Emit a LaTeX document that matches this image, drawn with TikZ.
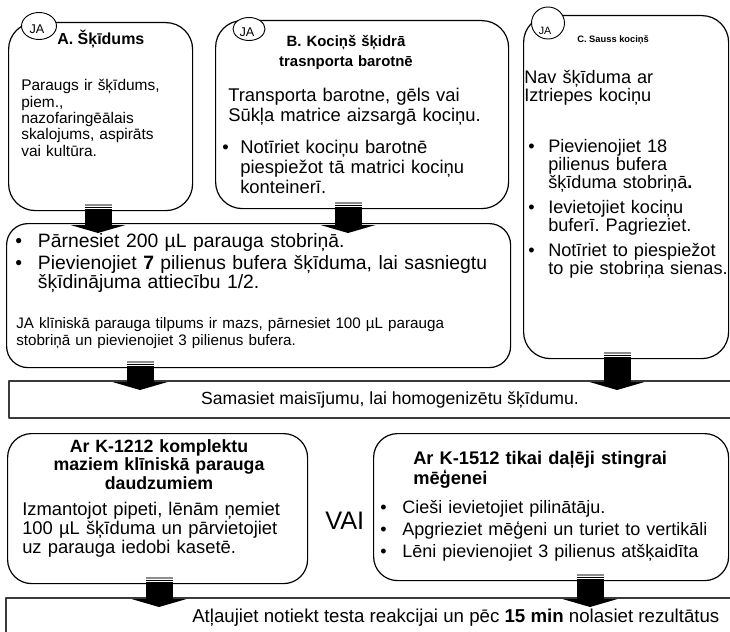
\documentclass[tikz,border=0pt]{standalone}
\usepackage{fontspec}
\setmainfont{Liberation Sans}
\usetikzlibrary{calc,shapes.geometric}
\definecolor{cframe}{HTML}{3A3A3A}
\definecolor{cstripe}{HTML}{8C8C8C}
\def\pxl{0.75pt}
\frenchspacing
\newlength\bulind
\newcommand\bul[1]{\hangindent=\bulind\hangafter=1\noindent
  \makebox[\bulind][l]{\textbullet}#1\par}
% fat block arrow: from node, to node, x position (px)
\newcommand\flowarrow[3]{%
  \coordinate (fa-a) at (#3,0 |- #1.south);
  \coordinate (fa-b) at (#3,0 |- #2.north);
  \fill[cstripe] ($(fa-a)+(-13.5,-7.5)$) rectangle ($(fa-a)+(13.5,-5.5)$);
  \fill ($(fa-a)+(-13.5,-4.5)$) rectangle ($(fa-a)+(13.5,-3)$);
  \fill ($(fa-a)+(-13.5,-2)$) rectangle ($(fa-b)+(13.5,2)$);
  \fill ($(fa-b)+(-27.5,2)$) -- ($(fa-b)+(27.5,2)$) -- ($(fa-b)+(0,10)$) -- cycle;
}

\begin{document}
\begin{tikzpicture}[x=0.75pt, y=-0.75pt, line join=round,
    rbox/.style={draw, line width=0.9pt, rounded corners=20pt,
                 inner sep=0pt, anchor=north west},
    sbox/.style={draw=cframe, line width=1.3pt, inner sep=0pt,
                 anchor=north west},
    jamark/.style={draw, fill=white, ellipse, inner sep=0pt, line width=0.7pt},
    jatxt/.style={inner sep=0pt, font=\fontsize{9.5}{10}\selectfont},
    txt/.style={anchor=base west, align=left, inner sep=0pt},
    ctxt/.style={anchor=base, align=center, inner sep=0pt}]
\useasboundingbox (0,0) rectangle (730,631);

% =================== three sample types ===================
\node[rbox, minimum width=184*\pxl, minimum height=188*\pxl] (A) at (8,22) {};
\node[rbox, minimum width=293*\pxl, minimum height=188*\pxl] (B) at (215,20) {};
\node[rbox, minimum width=205*\pxl, minimum height=343*\pxl] (C) at (523,15) {};

% JA marks on the corners
\node[jamark, minimum width=35*\pxl, minimum height=27*\pxl] (jaA) at (39,26) {};
\node[jatxt] (jaAt) at (37,29) {JA};
\node[jamark, minimum width=32*\pxl, minimum height=23*\pxl] (jaB) at (249,29) {};
\node[jatxt] (jaBt) at (247,32) {JA};
\node[jamark, minimum width=33*\pxl, minimum height=32*\pxl] (jaC) at (548,23) {};
\node[jatxt, font=\fontsize{8}{9}\selectfont] (jaCt) at (545,31) {JA};

% box A
\node[txt, font=\bfseries\fontsize{12}{14}\selectfont] (tA) at (57,45) {A. Šķīdums};
\node[txt, text width=165*\pxl, font=\fontsize{11.6}{12.3}\selectfont] (bA)
  at (21,90.7) {Paraugs ir šķīdums,\\piem.,\\nazofaringēālais\\skalojums, aspirāts\\vai kultūra.};

% box B
\node[ctxt, text width=200*\pxl, font=\bfseries\fontsize{11.2}{15}\selectfont] (tB)
  at (346,46.7) {B. Kociņš šķidrā\\trasnporta barotnē};
\node[txt, text width=275*\pxl, font=\fontsize{13.8}{15}\selectfont] (bB)
  at (228,101.7) {Transporta barotne, gēls vai\\Sūkļa matrice aizsargā kociņu.};
\node[txt, text width=280*\pxl, font=\fontsize{13.8}{15}\selectfont,
      execute at begin node={\setlength\bulind{13.5pt}}] (lB)
  at (222,153) {\bul{Notīriet kociņu barotnē\newline piespiežot tā matrici kociņu\newline konteinerī.}};

% box C
\node[txt, font=\bfseries\fontsize{7}{9}\selectfont] (tC) at (577,43) {C. Sauss kociņš};
\node[txt, text width=200*\pxl, font=\fontsize{13.6}{13.5}\selectfont] (bC)
  at (524,84) {Nav šķīduma ar\\Iztriepes kociņu};
\node[txt, text width=210*\pxl, font=\fontsize{13.6}{13.7}\selectfont,
      execute at begin node={\setlength\bulind{15pt}\setlength\parskip{4.9pt}}] (lC)
  at (528,152) {\bul{Pievienojiet 18\newline pilienus bufera\newline šķīduma stobriņā\textbf{.}}
                \bul{Ievietojiet kociņu\newline buferī. Pagrieziet.}
                \bul{Notīriet to piespiežot\newline to pie stobriņa sienas.}};

% =================== transfer to tube ===================
\node[rbox, rounded corners=16pt, minimum width=504*\pxl, minimum height=144*\pxl] (mid)
  at (6,223) {};
\node[txt, text width=490*\pxl, font=\fontsize{14.5}{14.3}\selectfont,
      execute at begin node={\setlength\bulind{17pt}\setlength\parskip{2.5pt}}] (lMid)
  at (15,247) {\bul{Pārnesiet 200 µL parauga stobriņā.}
               \bul{Pievienojiet \textbf{7} pilienus bufera šķīduma, lai sasniegtu\newline šķīdinājuma attiecību 1/2.}};
\node[txt, text width=490*\pxl, font=\fontsize{11.4}{12.75}\selectfont] (nMid)
  at (16,328) {JA klīniskā parauga tilpums ir mazs, pārnesiet 100 µL parauga\\stobriņā un pievienojiet 3 pilienus bufera.};

% mixing step
\node[sbox, minimum width=737*\pxl, minimum height=37*\pxl] (mix) at (8,380) {};
\node[anchor=base, inner sep=0pt, font=\fontsize{13.2}{15}\selectfont] (tMix)
  at (390,404) {Samasiet maisījumu, lai homogenizētu šķīdumu.};

% =================== two application routes ===================
\node[rbox, rounded corners=18pt, minimum width=300*\pxl, minimum height=150*\pxl] (kitS)
  at (7,433) {};
\node[ctxt, text width=280*\pxl, font=\bfseries\fontsize{13.3}{13.9}\selectfont] (tKitS)
  at (159,452) {Ar K-1212 komplektu\\maziem klīniskā parauga\\daudzumiem};
\node[txt, text width=280*\pxl, font=\fontsize{13.8}{14.3}\selectfont] (bKitS)
  at (22,515) {Izmantojot pipeti, lēnām ņemiet\\100 µL šķīduma un pārvietojiet\\uz parauga iedobi kasetē.};

\node[txt, font=\fontsize{19}{20}\selectfont] (vai) at (325,529) {VAI};

\node[rbox, rounded corners=18pt, minimum width=355*\pxl, minimum height=147*\pxl] (kitT)
  at (373,433) {};
\node[txt, text width=310*\pxl, font=\bfseries\fontsize{13.7}{15}\selectfont] (tKitT)
  at (413,464) {Ar K-1512 tikai daļēji stingrai\\mēģenei};
\node[txt, text width=345*\pxl, font=\fontsize{13.5}{16.5}\selectfont,
      execute at begin node={\setlength\bulind{16.5pt}}] (lKitT)
  at (380,513) {\bul{Cieši ievietojiet pilinātāju.}
                \bul{Apgrieziet mēģeni un turiet to vertikāli}
                \bul{Lēni pievienojiet 3 pilienus atšķaidīta}};

% reading step
\node[sbox, minimum width=740*\pxl, minimum height=63*\pxl] (read) at (5,597) {};
\node[txt, font=\fontsize{14}{16}\selectfont] (tRead)
  at (192,622) {Atļaujiet notiekt testa reakcijai un pēc \textbf{15 min} nolasiet rezultātus};

% =================== block arrows ===================
\flowarrow{A}{mid}{98}
\flowarrow{B}{mid}{348}
\flowarrow{mid}{mix}{140}
\flowarrow{C}{mix}{617}
\flowarrow{kitS}{read}{159}
\flowarrow{kitT}{read}{590}

\end{tikzpicture}
\end{document}
